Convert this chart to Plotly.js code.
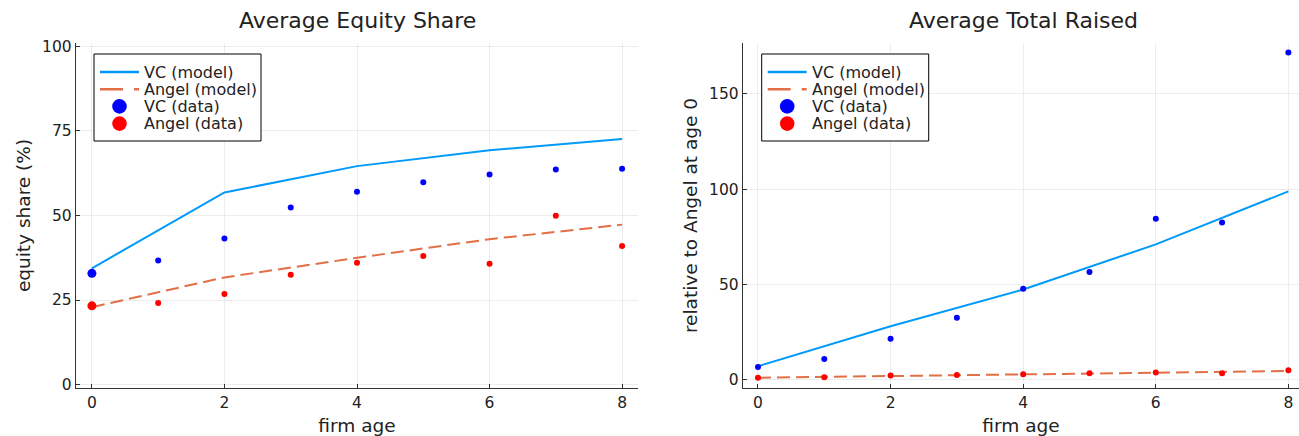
<!DOCTYPE html>
<html>
<head>
<meta charset="utf-8">
<script src="https://cdn.plot.ly/plotly-3.0.1.min.js"></script>
<style>html,body{margin:0;padding:0;background:#fff;}#chart{width:1299px;height:436px;}</style>
</head>
<body>
<div id="chart"></div>
<script>
// ---- data ----
const ages = [0, 1, 2, 3, 4, 5, 6, 7, 8];
const modelAges = [0, 2, 4, 6, 8];

// Average Equity Share (%)
const equityVCModel = [34.4, 56.8, 64.6, 69.3, 72.6];
const equityAngelModel = [22.9, 31.7, 37.5, 43.0, 47.3];
const equityVCData = [32.9, 36.7, 43.2, 52.4, 57.0, 59.8, 62.1, 63.6, 63.8];
const equityAngelData = [23.3, 24.1, 26.8, 32.5, 36.0, 38.0, 35.7, 49.9, 41.0];

// Average Total Raised (relative to Angel at age 0)
const raisedVCModel = [7.0, 28.0, 47.3, 71.0, 98.8];
const raisedAngelModel = [1.0, 1.9, 2.7, 3.6, 4.5];
const raisedVCData = [6.6, 10.8, 21.5, 32.5, 47.7, 56.5, 84.5, 82.5, 171.7];
const raisedAngelData = [1.0, 1.2, 2.1, 2.4, 2.8, 3.3, 3.8, 3.3, 4.9];

const titles = ["Average Equity Share", "Average Total Raised"];
const yTitles = ["equity share (%)", "relative to Angel at age 0"];
const xTitle = "firm age";
const names = ["VC (model)", "Angel (model)", "VC (data)", "Angel (data)"];

// ---- style ----
const W = 1299, H = 436;
const FONT = "DejaVu Sans, sans-serif";
const TXT = "#222";
const blueLine = "#009AFA", orangeLine = "#E26F46";
const blueDot = "#0000FF", redDot = "#FF0000";
const px = v => v / W, py = v => 1 - v / H;

function panel(xa, ya, vcM, angM, vcD, angD, bigFirst) {
  const sz = ages.map(a => (bigFirst && a === 0) ? 9 : 6);
  return [
    {x: modelAges, y: vcM, name: names[0], type: "scatter", mode: "lines", xaxis: xa, yaxis: ya,
     line: {color: blueLine, width: 2}},
    {x: modelAges, y: angM, name: names[1], type: "scatter", mode: "lines", xaxis: xa, yaxis: ya,
     line: {color: orangeLine, width: 2, dash: "13px,6px"}},
    {x: ages, y: vcD, name: names[2], type: "scatter", mode: "markers", xaxis: xa, yaxis: ya,
     marker: {color: blueDot, size: sz, opacity: 1, line: {width: 0}}},
    {x: ages, y: angD, name: names[3], type: "scatter", mode: "markers", xaxis: xa, yaxis: ya,
     marker: {color: redDot, size: sz, opacity: 1, line: {width: 0}}}
  ];
}

const data = [
  ...panel("x", "y", equityVCModel, equityAngelModel, equityVCData, equityAngelData, true),
  ...panel("x2", "y2", raisedVCModel, raisedAngelModel, raisedVCData, raisedAngelData, false)
];

// ---- hand-drawn legends (one per panel) ----
const shapes = [], annotations = [];
function legendBox(x0) {
  const y0 = 54, w = 167, h = 87;
  const rows = [72, 89.2, 106.4, 123.6];
  shapes.push({type: "rect", xref: "paper", yref: "paper", x0: px(x0), x1: px(x0 + w), y0: py(y0), y1: py(y0 + h),
    line: {color: "#000", width: 1}, fillcolor: "#fff", layer: "above"});
  shapes.push({type: "line", xref: "paper", yref: "paper", x0: px(x0 + 6), x1: px(x0 + 45), y0: py(rows[0]), y1: py(rows[0]),
    line: {color: blueLine, width: 2.5}, layer: "above"});
  shapes.push({type: "line", xref: "paper", yref: "paper", x0: px(x0 + 6), x1: px(x0 + 45), y0: py(rows[1]), y1: py(rows[1]),
    line: {color: orangeLine, width: 2.5, dash: "23px,11px,5px"}, layer: "above"});
  [[rows[2], blueDot], [rows[3], redDot]].forEach(([cy, c]) => {
    const cx = x0 + 25.5, r = 7.3;
    shapes.push({type: "circle", xref: "paper", yref: "paper", x0: px(cx - r), x1: px(cx + r), y0: py(cy + r), y1: py(cy - r),
      line: {width: 0}, fillcolor: c, layer: "above"});
  });
  names.forEach((n, i) => {
    annotations.push({text: n, xref: "paper", yref: "paper", x: px(x0 + 49), y: py(rows[i]), xanchor: "left", yanchor: "middle",
      showarrow: false, font: {family: FONT, size: 16, color: TXT}, borderpad: 0});
  });
}
legendBox(94);
legendBox(761.7);

annotations.push(
  {text: titles[0], xref: "paper", yref: "paper", x: px(357), y: py(21), xanchor: "center", yanchor: "middle",
   showarrow: false, font: {family: FONT, size: 22, color: TXT}},
  {text: titles[1], xref: "paper", yref: "paper", x: px(1023), y: py(21), xanchor: "center", yanchor: "middle",
   showarrow: false, font: {family: FONT, size: 22, color: TXT}}
);

const axisCommon = {
  showline: true, linecolor: "#333", linewidth: 1.2, mirror: false,
  showgrid: true, gridcolor: "rgba(0,0,0,0.09)", gridwidth: 0.8,
  zeroline: false, ticks: "inside", ticklen: 4, tickcolor: "#333",
  tickfont: {family: FONT, size: 15.5, color: TXT}
};
const xCommon = Object.assign({}, axisCommon, {
  tickmode: "array", tickvals: [0, 2, 4, 6, 8], ticktext: ["0", "2", "4", "6", "8"],
  title: {text: xTitle, font: {family: FONT, size: 18.5, color: TXT}, standoff: 8}
});

const layout = {
  width: W, height: H,
  margin: {l: 0, r: 0, t: 0, b: 0},
  paper_bgcolor: "#fff", plot_bgcolor: "#fff",
  font: {family: FONT, color: TXT},
  showlegend: false,
  xaxis: Object.assign({}, xCommon, {domain: [px(76), px(638)], range: [-0.24, 8.24], anchor: "y"}),
  yaxis: Object.assign({}, axisCommon, {domain: [48 / H, 393 / H], range: [-1, 101], anchor: "x",
    tickvals: [0, 25, 50, 75, 100],
    title: {text: yTitles[0], font: {family: FONT, size: 18.5, color: TXT}, standoff: 6}}),
  xaxis2: Object.assign({}, xCommon, {domain: [px(743), 1], range: [-0.226, 8.16], anchor: "y2"}),
  yaxis2: Object.assign({}, axisCommon, {domain: [48 / H, 393 / H], range: [-4.4, 176.7], anchor: "x2",
    tickvals: [0, 50, 100, 150],
    title: {text: yTitles[1], font: {family: FONT, size: 18.5, color: TXT}, standoff: 6}}),
  shapes: shapes,
  annotations: annotations
};

Plotly.newPlot("chart", data, layout, {staticPlot: true, displayModeBar: false});
</script>
</body>
</html>
